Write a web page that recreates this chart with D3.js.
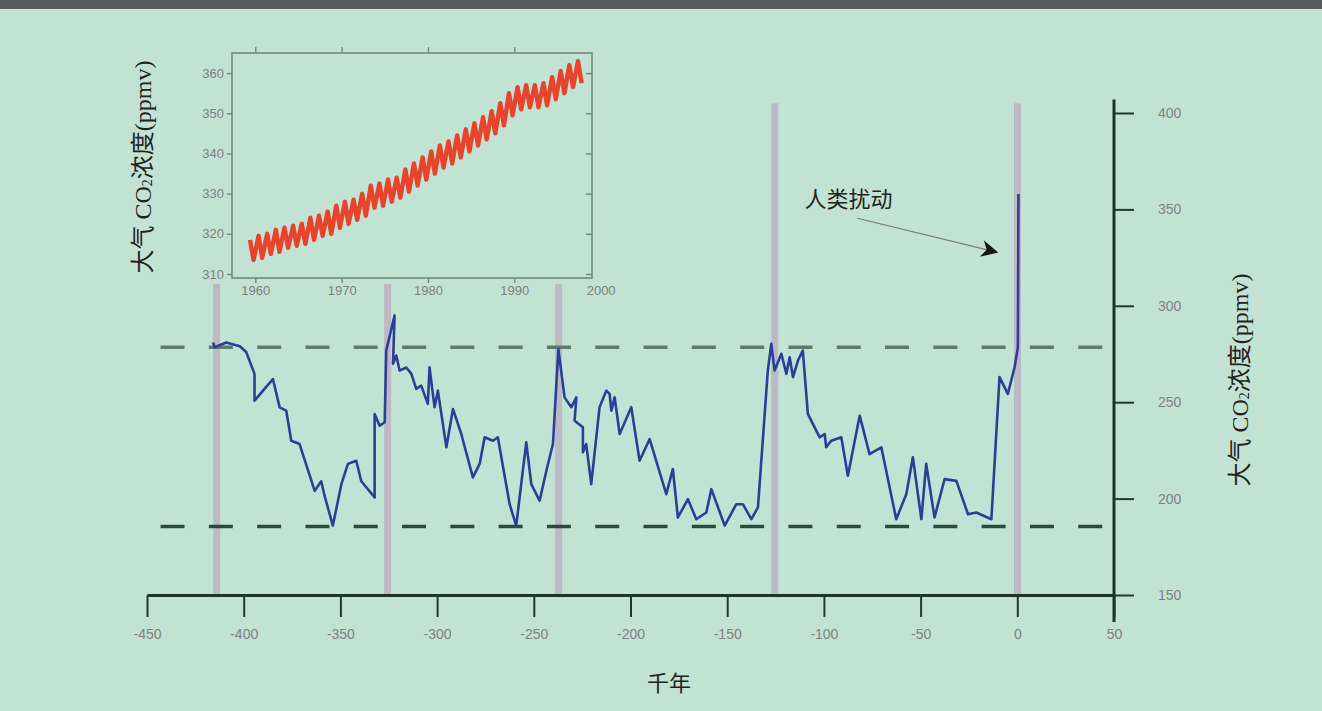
<!DOCTYPE html>
<html><head><meta charset="utf-8">
<script src="https://cdn.jsdelivr.net/npm/d3@7"></script>
<style>html,body{margin:0;padding:0;background:#c2e3d4;} svg{display:block;}</style>
</head><body><svg id="c" width="1322" height="711"></svg>
<script>
// Vostok CO2 record (thousand years, ppmv)
const kyr = [-415.9,-415,-409,-402,-398.7,-394.4,-394.4,-390,-384.9,-381.4,-378,-375.4,-371.1,-363.3,-359.9,-358.2,-353.9,-349.5,-346.1,-341.8,-339.2,-332.3,-332.3,-329.7,-327.1,-326.3,-322,-322.8,-321.1,-319.4,-315.9,-313.3,-310.8,-308.2,-304.8,-303.9,-302.2,-301.3,-299.6,-295.2,-291.8,-287.5,-281.5,-278,-275.4,-271.1,-268.6,-262.5,-259.1,-253.9,-251.3,-247,-243.5,-240.1,-237.3,-234.1,-230.6,-228,-228.9,-224.6,-224.6,-222.9,-220.3,-216,-212.5,-210.8,-209.9,-208.2,-205.6,-199.6,-195.3,-190.1,-181.5,-178.1,-175.5,-170.3,-166,-160.8,-158.2,-151.3,-145.3,-141.9,-137.5,-134.1,-129,-127.2,-125.5,-122,-119.4,-117.7,-116,-113.4,-110.9,-108.3,-102.2,-99.6,-98.8,-96.2,-91,-87.6,-81.5,-76.4,-70.3,-62.6,-57.4,-54,-49.6,-47.1,-42.8,-37.6,-31.5,-25.5,-21.2,-13.4,-9.2,-4.9,-1.4,0.3,0.6];
const co2 = [281,278.5,281,279,276,264.7,250.8,256,262,247.3,245.6,230,228.3,204,209,201.5,186,207.5,218,219.6,209,200.6,243.9,237.8,239.6,276.8,295,269.9,274.2,266.4,268,264.7,256.9,258.6,249.1,268.1,254.3,247.4,256,226.6,246.5,233.5,211,218,231.8,230,231.8,197.1,186,229.2,207.5,198.9,214.4,228.3,277.5,252.5,247.4,252.5,240.4,237,224,228.3,207.5,247.4,256,254.3,245.6,252.5,233.5,247.4,219.6,230.9,202.3,215.3,190.2,199.7,189.3,192.8,204.9,186,197.1,197.1,189.3,195.4,266.4,280.3,266.4,275.1,264.7,273.3,263,271.6,276.8,243.9,231.8,233.5,226.6,230,231.8,211.9,243,223.1,226.6,189.3,202.3,221.4,189.3,218,190.2,210.1,209.2,191.9,192.8,189.3,263,254.3,268.1,278.5,358];

const xTicks = [-450,-400,-350,-300,-250,-200,-150,-100,-50,0,50];
const yTicks = [150,200,250,300,350,400];
const glacialLevels = [278.5,185.5];
const interglacials = [-414,-325.6,-237.2,-125.4,0.1];

// Mauna Loa inset (seasonal maxima / minima)
const mlYears  = [1959,1960,1961,1962,1963,1964,1965,1966,1967,1968,1969,1970,1971,1972,1973,1974,1975,1976,1977,1978,1979,1980,1981,1982,1983,1984,1985,1986,1987,1988,1989,1990,1991,1992,1993,1994,1995,1996,1997];
const mlPeak   = [318.5,319.5,320,321,321.5,322,322.5,324,324.5,325.5,327,328,328.5,330,332,332.5,333.5,334,336,337.5,339,340.5,342,343,344.5,346,347.5,349,350.5,352.5,355,356.5,357,357,357.5,359,360.5,362,363];
const mlTrough = [313.5,314,315,315.5,316.5,317,317.5,318.5,319.5,320,321.5,322.5,323.5,324.5,326.5,327,328,329,330.5,332,333.5,335,336.5,337.5,339,340.5,342,343.5,345,347,349.5,351,351.5,351.5,352,353.5,355,356.5,357.5];
const insetXTicks = [1960,1970,1980,1990,2000];
const insetYTicks = [310,320,330,340,350,360];

const BG = '#c2e3d4';
const svg = d3.select('#c');
svg.append('rect').attr('width',1322).attr('height',711).attr('fill',BG);
svg.append('rect').attr('width',1322).attr('height',9).attr('fill','#58595b');

const x = d3.scaleLinear().domain([-450,50]).range([147,1114]);
const y = d3.scaleLinear().domain([150,400]).range([595,113]);

// interglacial bands
svg.selectAll('.band').data(interglacials).join('rect')
  .attr('x',d=>x(d)-3.5).attr('width',7)
  .attr('y',y(405)).attr('height',y(150)-y(405))
  .attr('fill','#bcb9c5');

// dashed reference levels
svg.selectAll('.lvl').data(glacialLevels).join('line')
  .attr('x1',x(-443)).attr('x2',x(45))
  .attr('y1',d=>y(d)).attr('y2',d=>y(d))
  .attr('stroke',(d,i)=>i?'#2e4a3a':'#5f7a69')
  .attr('stroke-width',3.5).attr('stroke-dasharray','24,24.3');

// CO2 line
svg.append('path')
  .attr('d', d3.line().x((d,i)=>x(kyr[i])).y((d,i)=>y(co2[i]))(co2))
  .attr('fill','none').attr('stroke','#2b3f97').attr('stroke-width',2.6)
  .attr('stroke-linejoin','round');

// bottom axis
const gx = svg.append('g').attr('transform',`translate(0,${y(150)})`)
  .call(d3.axisBottom(x).tickValues(xTicks).tickSize(22).tickSizeOuter(0).tickPadding(12).tickFormat(d=>String(d)));
gx.select('.domain').attr('stroke','#1d3527').attr('stroke-width',3);
gx.selectAll('.tick line').attr('stroke','#23382b').attr('stroke-width',2);
gx.selectAll('.tick text').attr('fill','#808080').style('font','14px "Liberation Sans", sans-serif');

// right axis
const gy = svg.append('g').attr('transform',`translate(${x(50)},0)`)
  .call(d3.axisRight(y).tickValues(yTicks).tickSize(20).tickSizeOuter(0).tickPadding(24));
gy.select('.domain').remove();
gy.append('line').attr('x1',0).attr('x2',0).attr('y1',y(407)).attr('y2',y(136))
  .attr('stroke','#1d3527').attr('stroke-width',3);
gy.selectAll('.tick line').attr('stroke','#23382b').attr('stroke-width',2);
gy.selectAll('.tick text').attr('fill','#808080').style('font','14px "Liberation Sans", sans-serif');

const labelFont = '24px "Liberation Serif", "Noto Sans CJK SC", serif';
function co2Label(g){
  g.append('tspan').text('大气 CO');
  g.append('tspan').text('2').attr('font-size',14).attr('dy',4);
  g.append('tspan').text('浓度(ppmv)').attr('dy',-4);
}
// right label
const rl = svg.append('text').attr('transform','translate(1240,380) rotate(-90)')
  .attr('text-anchor','middle').attr('dominant-baseline','central')
  .style('font',labelFont).attr('fill','#222');
co2Label(rl);

// x label
svg.append('text').attr('x',669).attr('y',681).attr('text-anchor','middle')
  .attr('dominant-baseline','central').style('font','22px "Noto Sans CJK SC", sans-serif')
  .attr('fill','#222').text('千年');

// annotation
svg.append('defs').append('marker').attr('id','ah').attr('viewBox','0 0 10 10')
  .attr('refX',9).attr('refY',5).attr('markerWidth',22).attr('markerHeight',17)
  .attr('markerUnits','userSpaceOnUse').attr('orient','auto')
  .append('path').attr('d','M0,0 L10,5 L0,10 L3,5 z').attr('fill','#151515');
svg.append('line').attr('x1',x(-82.7)).attr('y1',y(345.4)).attr('x2',x(-10.7)).attr('y2',y(327.8))
  .attr('stroke','#7a7a7a').attr('stroke-width',1.2).attr('marker-end','url(#ah)');
svg.append('text').attr('x',x(-110)).attr('y',y(351))
  .style('font','22px "Noto Sans CJK SC", sans-serif').attr('fill','#222').text('人类扰动');

// inset
const inset = svg.append('g');
inset.append('rect').attr('x',190).attr('y',38).attr('width',422).attr('height',246).attr('fill',BG);
const ix = d3.scaleLinear().domain([1957.3,1999]).range([232,592]);
const iy = d3.scaleLinear().domain([309,365]).range([278,53]);

const pts = [];
mlYears.forEach((yr,i)=>{ pts.push([yr+0.38, mlPeak[i]]); pts.push([yr+0.8, mlTrough[i]]); });
inset.append('path').attr('d', d3.line().x(d=>ix(d[0])).y(d=>iy(d[1]))(pts))
  .attr('fill','none').attr('stroke','#e8432b').attr('stroke-width',4.4).attr('stroke-linejoin','round');

inset.append('rect').attr('x',232).attr('y',53).attr('width',360).attr('height',225)
  .attr('fill','none').attr('stroke','#6f8a7c').attr('stroke-width',1.6);

const styleInset = g => {
  g.select('.domain').remove();
  g.selectAll('.tick line').attr('stroke','#6f8a7c').attr('stroke-width',1.4);
  g.selectAll('.tick text').attr('fill','#7e7e7e').style('font','13px "Liberation Sans", sans-serif');
};
const ib = inset.append('g').attr('transform','translate(0,278)')
  .call(d3.axisBottom(ix).tickValues(insetXTicks).tickSize(5).tickPadding(3).tickFormat(d=>String(d)));
styleInset(ib);
ib.selectAll('.tick').filter(d=>d>ix.domain()[1]).select('line').remove();
const it = inset.append('g').attr('transform','translate(0,53)')
  .call(d3.axisTop(ix).tickValues(insetXTicks.filter(d=>d<ix.domain()[1])).tickSize(6).tickFormat(''));
styleInset(it);
const il = inset.append('g').attr('transform','translate(232,0)')
  .call(d3.axisLeft(iy).tickValues(insetYTicks).tickSize(5).tickPadding(3));
styleInset(il);
const ir = inset.append('g').attr('transform','translate(592,0)')
  .call(d3.axisLeft(iy).tickValues(insetYTicks).tickSize(6).tickFormat(''));
styleInset(ir);

// left label
const ll = svg.append('text').attr('transform','translate(143,167) rotate(-90)')
  .attr('text-anchor','middle').attr('dominant-baseline','central')
  .style('font',labelFont).attr('fill','#222');
co2Label(ll);
</script></body></html>
